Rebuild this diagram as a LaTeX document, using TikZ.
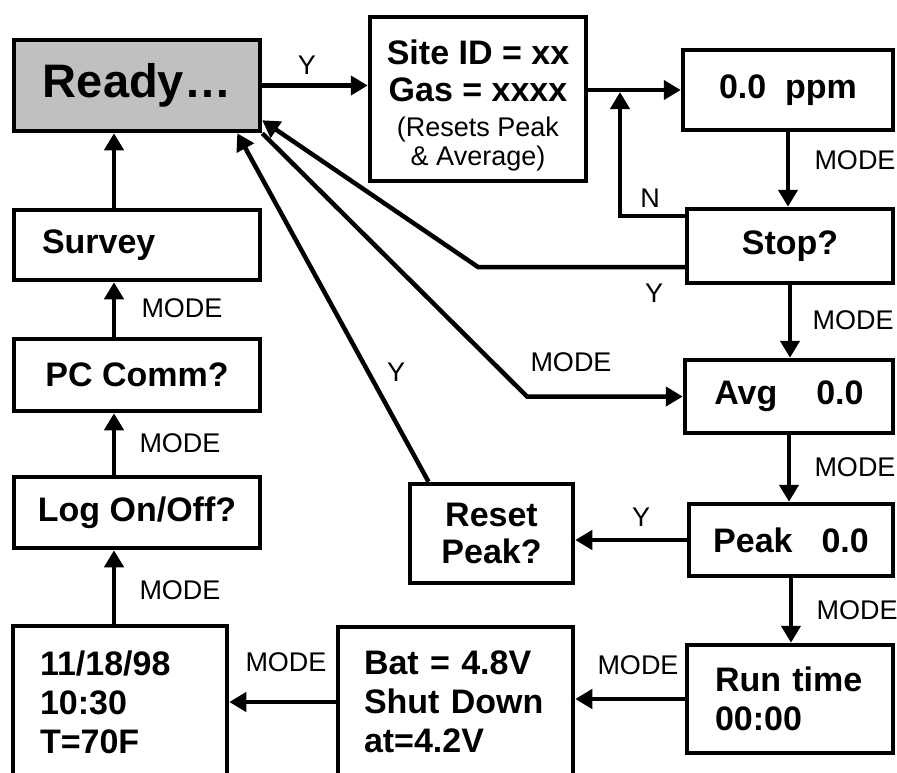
\documentclass[tikz,border=0pt]{standalone}
\usepackage{fontspec}
\setmainfont{Liberation Sans}
\usepackage{tikz}
\usetikzlibrary{arrows.meta,positioning}
\definecolor{readygray}{HTML}{C0C0C0}
\tikzset{
  screen/.style={draw,line width=4.5pt,inner sep=0pt,align=center,font=\bfseries\fontsize{34}{39}\selectfont},
  leftscreen/.style={screen,align=left},
  readyscreen/.style={screen,fill=readygray,font=\bfseries\fontsize{47}{52}\selectfont},
  arrow/.style={-{Triangle[length=17pt,width=19pt]},line width=4.5pt},
  keylabel/.style={font=\fontsize{27}{30}\selectfont,inner sep=0pt}
}

\begin{document}
\begin{tikzpicture}[x=1pt,y=-1pt]
\useasboundingbox (0,0) rectangle (897,772);
\clip (0,0) rectangle (897,772);

% screens
\node[readyscreen,minimum width=246pt,minimum height=91pt] (ready) at (137,85.5) {Ready…};
\node[screen,minimum width=216pt,minimum height=164pt,text width=200pt,align=flush center,font=\bfseries\fontsize{34}{37}\selectfont] (site) at (478,99)
  {\rule{0pt}{37pt}Site ID = xx\\Gas = xxxx\\[5pt]\normalfont\fontsize{27}{30}\selectfont(Resets Peak\\[-8pt]\& Average)};
\node[screen,minimum width=210pt,minimum height=80pt] (ppm) at (788,90) {0.0~~ppm};
\node[screen,minimum width=206pt,minimum height=74pt] (stop) at (790,246) {Stop?};
\node[screen,minimum width=208pt,minimum height=73pt] (avg) at (789,396.5) {Avg\hspace{39pt}0.0};
\node[screen,minimum width=204pt,minimum height=72pt] (peak) at (791,540) {Peak\hspace{29pt}0.0};
\node[screen,minimum width=163pt,minimum height=99pt,font=\bfseries\fontsize{34}{37}\selectfont] (reset) at (491.5,533.5) {Reset\\Peak?};
\node[leftscreen,inner xsep=28pt,text width=150pt,minimum height=108pt] (run) at (790,699) {Run time\\00:00};
\node[leftscreen,inner xsep=26pt,text width=183pt,minimum height=150pt] (bat) at (455.5,702) {Bat = 4.8V\\Shut Down\\at=4.2V};
\node[leftscreen,inner xsep=27pt,text width=160pt,minimum height=152pt] (date) at (120,702) {11/18/98\\10:30\\T=70F};
\node[screen,minimum width=246pt,minimum height=71pt] (log) at (137,512.5) {Log On/Off?};
\node[screen,minimum width=246pt,minimum height=72pt] (pc) at (137,375) {PC Comm?};
\node[leftscreen,inner xsep=28pt,text width=190pt,minimum height=70pt] (survey) at (137,245) {Survey};

% bends
\coordinate (njoin) at (620,92);
\coordinate (ybend) at (478,267);
\coordinate (mbend) at (527,396.5);
\coordinate (spine) at (114,0);

% connectors
\draw[arrow] (ready.east) -- (ready.east -| site.west);
\draw[arrow] (site.east |- ppm.west) -- (ppm.west);
\draw[arrow] ([yshift=-9pt]stop.north west) -| (njoin);
\draw[arrow] ([yshift=-21pt]stop.west) -- (ybend) -- ([yshift=13pt]ready.south east);
\draw[arrow] (ready.south east) -- (mbend) -- (avg.west);
\draw[arrow] ([xshift=-63pt]reset.north) -- ([xshift=-25pt]ready.south east);
\draw[arrow] (ppm.south) -- (ppm.south |- stop.north);
\draw[arrow] (stop.south) -- (stop.south |- avg.north);
\draw[arrow] (avg.south) -- (avg.south |- peak.north);
\draw[arrow] (peak.west) -- (peak.west -| reset.east);
\draw[arrow] (peak.south) -- (peak.south |- run.north);
\draw[arrow] (run.west) -- (run.west -| bat.east);
\draw[arrow] (bat.west) -- (bat.west -| date.east);
\draw[arrow] (date.north -| spine) -- (log.south -| spine);
\draw[arrow] (log.north -| spine) -- (pc.south -| spine);
\draw[arrow] (pc.north -| spine) -- (survey.south -| spine);
\draw[arrow] (survey.north -| spine) -- (ready.south -| spine);

% key labels
\node[keylabel] (ySite) at (307,65) {Y};
\node[keylabel] (nStop) at (650,198) {N};
\node[keylabel] (yStop) at (654,293) {Y};
\node[keylabel] (mAvg) at (571,362) {MODE};
\node[keylabel] (yReset) at (396,372) {Y};
\node[keylabel] (yPeak) at (641,517) {Y};
\node[keylabel] (mPpm) at (855,160) {MODE};
\node[keylabel] (mStop) at (853,320) {MODE};
\node[keylabel] (mPeak) at (855,467) {MODE};
\node[keylabel] (mRun) at (857,610) {MODE};
\node[keylabel] (mBat) at (638,665) {MODE};
\node[keylabel] (mDate) at (286,662) {MODE};
\node[keylabel] (mLog) at (180,590) {MODE};
\node[keylabel] (mPc) at (180,443) {MODE};
\node[keylabel] (mSurvey) at (182,308) {MODE};
\end{tikzpicture}
\end{document}
